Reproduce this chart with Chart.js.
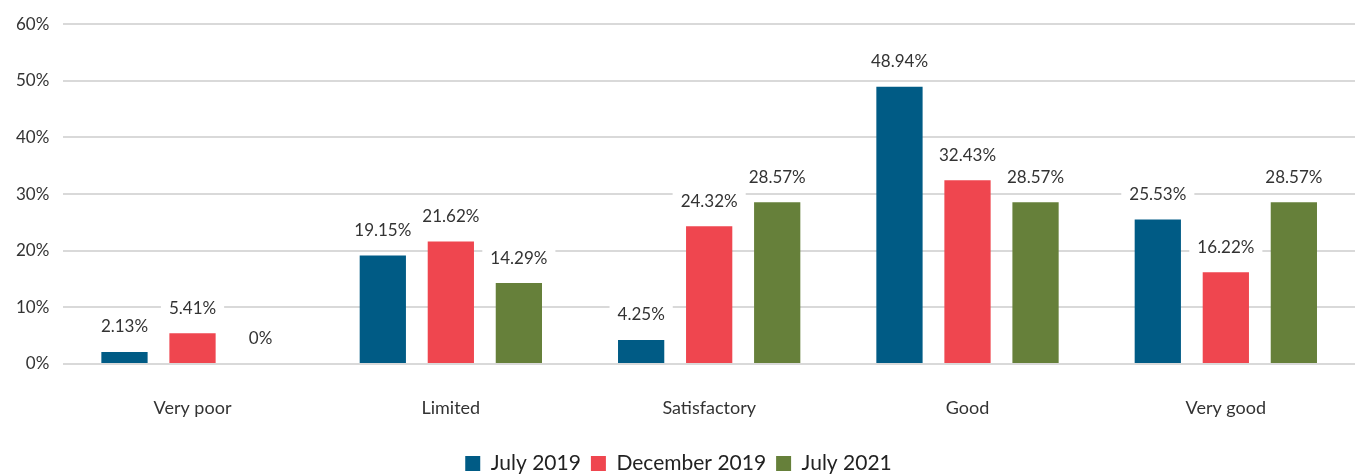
<!DOCTYPE html>
<html>
<head>
<meta charset="utf-8">
<script src="https://cdn.jsdelivr.net/npm/chart.js@4"></script>
<style>
  html, body { margin: 0; padding: 0; background: #fff; }
  #wrap { width: 1357px; height: 475px; position: relative; }
</style>
</head>
<body>
<div id="wrap"><canvas id="ratingChart"></canvas></div>
<script>
const categories = ["Very poor", "Limited", "Satisfactory", "Good", "Very good"]
const july2019 = [2.13, 19.15, 4.25, 48.94, 25.53]
const december2019 = [5.41, 21.62, 24.32, 32.43, 16.22]
const july2021 = [0, 14.29, 28.57, 28.57, 28.57]
const yTicks = [0, 10, 20, 30, 40, 50, 60]

const FONT = "Lato, 'Open Sans', sans-serif"

// draws the value above each bar on a white box
const valueLabels = {
  id: "valueLabels",
  afterDatasetsDraw(chart) {
    const ctx = chart.ctx
    ctx.save()
    ctx.font = "17px " + FONT
    ctx.textAlign = "center"
    ctx.textBaseline = "middle"
    chart.data.datasets.forEach(function (ds, i) {
      chart.getDatasetMeta(i).data.forEach(function (bar, j) {
        const v = ds.data[j]
        const txt = (v === 0 ? "0" : v.toFixed(2)) + "%"
        const y = bar.y - 25
        const w = ctx.measureText(txt).width + 16
        ctx.fillStyle = "#fff"
        ctx.fillRect(bar.x - w / 2, y - 11, w, 22)
        ctx.fillStyle = "#333"
        ctx.fillText(txt, bar.x, y)
      })
    })
    ctx.restore()
  },
}

const ctx = document.getElementById("ratingChart").getContext("2d")
new Chart(ctx, {
  type: "bar",
  data: {
    labels: categories,
    datasets: [
      { label: "July 2019", data: july2019, backgroundColor: "#005b85" },
      { label: "December 2019", data: december2019, backgroundColor: "#ef464f" },
      { label: "July 2021", data: july2021, backgroundColor: "#66803a" },
    ],
  },
  options: {
    responsive: true,
    maintainAspectRatio: false,
    animation: false,
    categoryPercentage: 0.79,
    barPercentage: 0.68,
    layout: { padding: { left: 2, right: 2, top: 11, bottom: -9 } },
    scales: {
      x: {
        grid: { display: false },
        border: { display: false },
        ticks: { color: "#333", font: { family: FONT, size: 18 }, padding: 25 },
        afterFit(axis) { axis.height = 79 },
      },
      y: {
        min: 0,
        max: 60,
        afterBuildTicks(axis) {
          axis.ticks = yTicks.map(function (v) { return { value: v } })
        },
        grid: { color: "#d9d9d9", lineWidth: 2, drawTicks: false },
        border: { display: false },
        ticks: {
          color: "#333",
          font: { family: FONT, size: 17 },
          padding: 14,
          callback: function (v) { return v + "%" },
        },
      },
    },
    plugins: {
      legend: {
        position: "bottom",
        labels: {
          color: "#222",
          font: { family: FONT, size: 21 },
          boxWidth: 15,
          boxHeight: 15,
          padding: 10,
        },
      },
      tooltip: { enabled: false },
    },
  },
  plugins: [valueLabels],
})
</script>
</body>
</html>
